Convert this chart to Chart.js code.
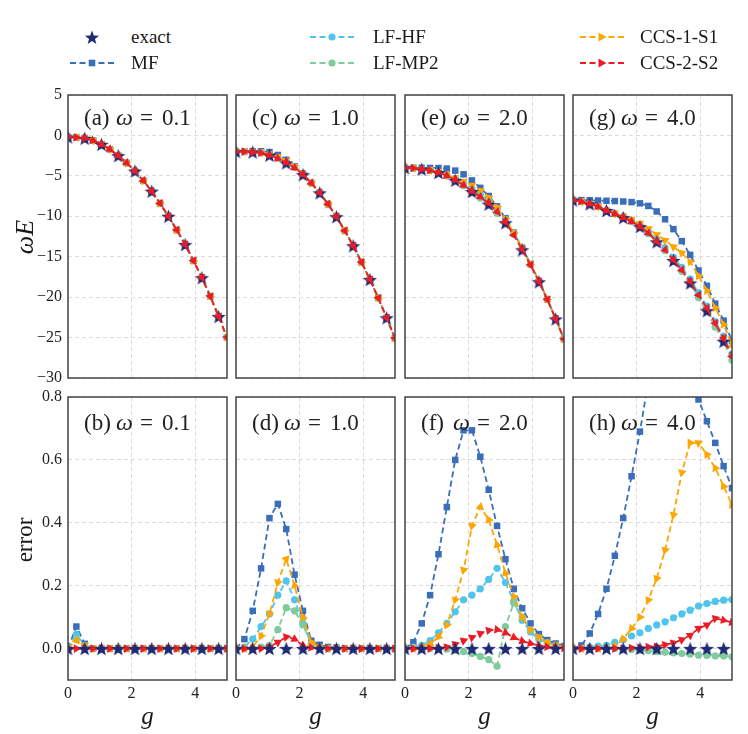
<!DOCTYPE html>
<html>
<head>
<meta charset="utf-8">
<script src="https://cdn.jsdelivr.net/npm/chart.js@4.4.1/dist/chart.umd.min.js"></script>
<style>
body{margin:0;background:#fff;}
#wrap{position:relative;width:748px;height:734px;font-family:"Liberation Serif","DejaVu Serif",serif;color:#1a1a1a;overflow:hidden;}
canvas{position:absolute;}
.lab{position:absolute;white-space:nowrap;text-align:center;}
.legtxt{position:absolute;font-size:19px;line-height:24px;white-space:nowrap;}
.legicon{position:absolute;}
</style>
</head>
<body>
<div id="wrap"></div>
<script>
// g grid (20 points) and the grid of the exact markers (every other point)
const gGrid = [0, 0.263, 0.526, 0.789, 1.053, 1.316, 1.579, 1.842, 2.105, 2.368, 2.632, 2.895, 3.158, 3.421, 3.684, 3.947, 4.211, 4.474, 4.737, 5.0];
const gExact = [0, 0.526, 1.053, 1.579, 2.105, 2.632, 3.158, 3.684, 4.211, 4.737];

const omegas = ['0.1', '1.0', '2.0', '4.0'];
const topLetters = ['(a)', '(c)', '(e)', '(g)'];
const botLetters = ['(b)', '(d)', '(f)', '(h)'];
const yTopTicks = [5, 0, -5, -10, -15, -20, -25, -30];
const yErrTicks = [0.8, 0.6, 0.4, 0.2, 0.0];
const xTicks = [0, 2, 4];

// top row: omega*E
// w = 0.1 : all methods lie on the exact curve
const wE_a_all = [-0.2, -0.25, -0.35, -0.63, -1.1, -1.72, -2.5, -3.4, -4.4, -5.6, -6.9, -8.4, -10.0, -11.7, -13.5, -15.5, -17.6, -19.9, -22.4, -25.0];
const wE_a_exact = [-0.2, -0.35, -1.1, -2.5, -4.4, -6.9, -10.0, -13.5, -17.6, -22.4];

const wE_c_exact = [-2.0, -2.05, -2.45, -3.4, -4.85, -7.1, -10.05, -13.65, -17.82, -22.55];
const wE_c_MF   = [-2.0, -1.99, -1.96, -1.96, -2.06, -2.42, -3.02, -3.82, -4.73, -5.87, -7.09, -8.5, -10.05, -11.78, -13.65, -15.68, -17.82, -20.1, -22.55, -25.1];
const wE_c_HF   = [-2.0, -2.0, -2.02, -2.1, -2.34, -2.71, -3.19, -3.9, -4.77, -5.89, -7.1, -8.5, -10.05, -11.78, -13.65, -15.68, -17.82, -20.1, -22.55, -25.1];
const wE_c_MP2  = [-2.0, -2.01, -2.05, -2.17, -2.44, -2.82, -3.27, -3.93, -4.78, -5.89, -7.1, -8.5, -10.05, -11.78, -13.65, -15.68, -17.82, -20.1, -22.55, -25.1];
const wE_c_CCS1 = [-2.0, -2.01, -2.05, -2.13, -2.34, -2.67, -3.12, -3.85, -4.75, -5.88, -7.1, -8.5, -10.05, -11.78, -13.65, -15.68, -17.82, -20.1, -22.55, -25.1];
const wE_c_CCS2 = [-2.0, -2.01, -2.05, -2.17, -2.45, -2.86, -3.36, -4.02, -4.84, -5.9, -7.1, -8.5, -10.05, -11.78, -13.65, -15.68, -17.82, -20.1, -22.55, -25.1];

const wE_e_exact = [-4.0, -4.18, -4.59, -5.55, -6.95, -8.5, -10.8, -14.15, -18.1, -22.7];
const wE_e_MF   = [-4.0, -4.01, -4.01, -4.02, -4.03, -4.1, -4.35, -4.81, -5.56, -6.48, -7.49, -8.77, -10.23, -12.02, -13.89, -15.89, -18.01, -20.25, -22.67, -25.18];
const wE_e_HF   = [-4.0, -4.04, -4.16, -4.3, -4.49, -4.84, -5.32, -5.89, -6.61, -7.32, -8.06, -9.04, -10.38, -12.1, -13.97, -15.94, -18.04, -20.26, -22.68, -25.19];
const wE_e_MP2  = [-4.0, -4.05, -4.18, -4.35, -4.59, -5.0, -5.56, -6.22, -6.98, -7.75, -8.57, -9.66, -10.66, -12.11, -13.95, -15.93, -18.03, -20.26, -22.68, -25.19];
const wE_e_CCS1 = [-4.0, -4.05, -4.17, -4.32, -4.52, -4.85, -5.24, -5.7, -6.17, -6.8, -7.68, -8.89, -10.32, -12.07, -13.95, -15.93, -18.03, -20.26, -22.68, -25.19];
const wE_e_CCS2 = [-4.0, -4.05, -4.18, -4.35, -4.59, -4.99, -5.52, -6.15, -6.88, -7.6, -8.38, -9.43, -10.7, -12.33, -14.1, -16.02, -18.08, -20.29, -22.69, -25.2];

const wE_g_exact = [-8.0, -8.47, -9.29, -10.16, -11.28, -13.16, -15.47, -18.25, -21.68, -25.45];
const wE_g_MF   = [-8.0, -8.0, -8.02, -8.05, -8.08, -8.12, -8.17, -8.25, -8.4, -8.72, -9.4, -10.37, -11.59, -13.07, -14.77, -16.7, -18.6, -20.8, -22.9, -25.4];
const wE_g_HF   = [-8.0, -8.18, -8.45, -8.77, -9.25, -9.62, -10.05, -10.5, -11.08, -11.86, -12.86, -13.87, -15.08, -16.31, -17.76, -19.45, -21.11, -23.02, -24.83, -27.07];
const wE_g_MP2  = [-8.0, -8.18, -8.47, -8.8, -9.29, -9.7, -10.17, -10.67, -11.3, -12.15, -13.2, -14.26, -15.53, -16.81, -18.32, -20.07, -21.77, -23.71, -25.55, -27.79];
const wE_g_CCS1 = [-8.0, -8.18, -8.47, -8.8, -9.29, -9.67, -10.04, -10.4, -10.88, -11.5, -12.27, -12.96, -13.77, -14.51, -15.63, -17.37, -19.21, -21.32, -23.39, -25.86];
const wE_g_CCS2 = [-8.0, -8.18, -8.47, -8.8, -9.29, -9.7, -10.16, -10.65, -11.27, -12.1, -13.13, -14.16, -15.4, -16.64, -18.08, -19.73, -21.38, -23.24, -25.09, -27.36];

// bottom row: error
const err_exact = [0, 0, 0, 0, 0, 0, 0, 0, 0, 0];

const err_b_MF   = [0, 0.07, 0.015, 0, 0, 0, 0, 0, 0, 0, 0, 0, 0, 0, 0, 0, 0, 0, 0, 0];
const err_b_HF   = [0, 0.045, 0.01, 0, 0, 0, 0, 0, 0, 0, 0, 0, 0, 0, 0, 0, 0, 0, 0, 0];
const err_b_MP2  = [0, 0.03, 0.008, 0, 0, 0, 0, 0, 0, 0, 0, 0, 0, 0, 0, 0, 0, 0, 0, 0];
const err_b_CCS1 = [0, 0.025, 0.01, 0, 0, 0, 0, 0, 0, 0, 0, 0, 0, 0, 0, 0, 0, 0, 0, 0];
const err_b_CCS2 = [0, 0, 0, 0, 0, 0, 0, 0, 0, 0, 0, 0, 0, 0, 0, 0, 0, 0, 0, 0];

const err_d_MF   = [0, 0.03, 0.12, 0.255, 0.415, 0.46, 0.38, 0.235, 0.12, 0.025, 0.012, 0.005, 0.003, 0, 0, 0, 0, 0, 0, 0];
const err_d_HF   = [0, 0.005, 0.03, 0.07, 0.11, 0.17, 0.215, 0.155, 0.08, 0.015, 0.005, 0, 0, 0, 0, 0, 0, 0, 0, 0];
const err_d_MP2  = [0, 0, 0, 0.005, 0.01, 0.06, 0.13, 0.12, 0.075, 0.015, 0.003, 0, 0, 0, 0, 0, 0, 0, 0, 0];
const err_d_CCS1 = [0, 0, 0.005, 0.04, 0.11, 0.21, 0.285, 0.2, 0.1, 0.02, 0.005, 0, 0, 0, 0, 0, 0, 0, 0, 0];
const err_d_CCS2 = [0, 0, 0, 0, 0.005, 0.02, 0.037, 0.03, 0.01, 0.003, 0, 0, 0, 0, 0, 0, 0, 0, 0, 0];

const err_f_MF   = [0, 0.02, 0.08, 0.17, 0.30, 0.45, 0.60, 0.694, 0.694, 0.61, 0.505, 0.39, 0.284, 0.19, 0.128, 0.08, 0.046, 0.027, 0.016, 0.008];
const err_f_HF   = [0, 0.005, 0.01, 0.025, 0.05, 0.08, 0.117, 0.155, 0.17, 0.19, 0.22, 0.255, 0.21, 0.15, 0.09, 0.053, 0.029, 0.018, 0.01, 0.005];
const err_f_MP2  = [0, 0, 0, 0, 0, -0.002, -0.005, -0.01, -0.016, -0.025, -0.035, -0.056, 0.07, 0.145, 0.10, 0.058, 0.034, 0.018, 0.01, 0.005];
const err_f_CCS1 = [0, 0, 0.005, 0.015, 0.037, 0.075, 0.155, 0.25, 0.39, 0.45, 0.41, 0.33, 0.24, 0.165, 0.10, 0.06, 0.037, 0.02, 0.01, 0.005];
const err_f_CCS2 = [0, 0, 0, 0, 0.002, 0.005, 0.014, 0.025, 0.035, 0.048, 0.058, 0.06, 0.05, 0.035, 0.024, 0.016, 0.01, 0.005, 0.003, 0.002];

const err_h_MF   = [0, 0.01, 0.048, 0.11, 0.19, 0.295, 0.415, 0.548, 0.69, 0.85, 0.94, 0.96, 0.97, 0.92, 0.87, 0.792, 0.723, 0.654, 0.58, 0.51];
const err_h_HF   = [0, 0, 0.005, 0.008, 0.01, 0.02, 0.028, 0.04, 0.05, 0.064, 0.075, 0.085, 0.098, 0.11, 0.122, 0.135, 0.143, 0.15, 0.154, 0.156];
const err_h_MP2  = [0, 0, 0, 0, 0, 0, -0.002, -0.003, -0.005, -0.007, -0.01, -0.012, -0.014, -0.016, -0.018, -0.021, -0.022, -0.023, -0.024, -0.026];
const err_h_CCS1 = [0, 0, 0, 0, 0, 0.007, 0.03, 0.064, 0.10, 0.154, 0.223, 0.313, 0.425, 0.56, 0.654, 0.654, 0.617, 0.574, 0.516, 0.457];
const err_h_CCS2 = [0, 0, 0, 0, 0, 0, 0, 0.002, 0.003, 0.005, 0.007, 0.012, 0.018, 0.028, 0.042, 0.064, 0.075, 0.096, 0.09, 0.083];

const topData = [
  {exact: wE_a_exact, MF: wE_a_all, HF: wE_a_all, MP2: wE_a_all, CCS1: wE_a_all, CCS2: wE_a_all},
  {exact: wE_c_exact, MF: wE_c_MF, HF: wE_c_HF, MP2: wE_c_MP2, CCS1: wE_c_CCS1, CCS2: wE_c_CCS2},
  {exact: wE_e_exact, MF: wE_e_MF, HF: wE_e_HF, MP2: wE_e_MP2, CCS1: wE_e_CCS1, CCS2: wE_e_CCS2},
  {exact: wE_g_exact, MF: wE_g_MF, HF: wE_g_HF, MP2: wE_g_MP2, CCS1: wE_g_CCS1, CCS2: wE_g_CCS2}
];
const botData = [
  {exact: err_exact, MF: err_b_MF, HF: err_b_HF, MP2: err_b_MP2, CCS1: err_b_CCS1, CCS2: err_b_CCS2},
  {exact: err_exact, MF: err_d_MF, HF: err_d_HF, MP2: err_d_MP2, CCS1: err_d_CCS1, CCS2: err_d_CCS2},
  {exact: err_exact, MF: err_f_MF, HF: err_f_HF, MP2: err_f_MP2, CCS1: err_f_CCS1, CCS2: err_f_CCS2},
  {exact: err_exact, MF: err_h_MF, HF: err_h_HF, MP2: err_h_MP2, CCS1: err_h_CCS1, CCS2: err_h_CCS2}
];

const colors = {exact: '#1f2a74', MF: '#3a6eba', HF: '#4fc4ec', MP2: '#7ecb9b', CCS1: '#ffa500', CCS2: '#ec1c26'};
const names = {exact: 'exact', MF: 'MF', HF: 'LF-HF', MP2: 'LF-MP2', CCS1: 'CCS-1-S1', CCS2: 'CCS-2-S2'};
const FONT = '"Liberation Serif", "DejaVu Serif", serif';

// filled 5-point star used for "exact"
function makeStar(size, color) {
  const c = document.createElement('canvas');
  c.width = size; c.height = size;
  const x = c.getContext('2d');
  const R = size / 2, r = R * 0.42;
  x.beginPath();
  for (let k = 0; k < 10; k++) {
    const a = -Math.PI / 2 + k * Math.PI / 5;
    const rr = k % 2 ? r : R;
    x.lineTo(R + rr * Math.cos(a), R + 0.8 + rr * Math.sin(a));
  }
  x.closePath();
  x.fillStyle = color;
  x.fill();
  return c;
}
const starImg = makeStar(15, colors.exact);

// triangles follow the line direction
function arrowAngle(ctx, flip) {
  const d = ctx.dataset.data, i = ctx.dataIndex;
  const a = d[Math.max(i - 1, 0)], b = d[Math.min(i + 1, d.length - 1)];
  const sx = ctx.chart.scales.x, sy = ctx.chart.scales.y;
  const dx = sx.getPixelForValue(b.x) - sx.getPixelForValue(a.x);
  const dy = sy.getPixelForValue(b.y) - sy.getPixelForValue(a.y);
  return Math.atan2(dy, dx) * 180 / Math.PI + 90 + (flip ? 180 : 0);
}

function series(key, ys, order) {
  const xs = key === 'exact' ? gExact : gGrid;
  const ds = {
    label: names[key],
    data: xs.map((x, i) => ({x: x, y: ys[i]})),
    borderColor: colors[key],
    backgroundColor: colors[key],
    borderWidth: 1.8,
    borderDash: [6, 3.5],
    pointBorderWidth: 0,
    order: order
  };
  if (key === 'exact') { ds.showLine = false; ds.pointStyle = starImg; ds.pointRadius = 7; }
  if (key === 'MF') { ds.pointStyle = 'rect'; ds.pointRadius = 4.6; }
  if (key === 'HF' || key === 'MP2') { ds.pointStyle = 'circle'; ds.pointRadius = 3.6; }
  if (key === 'CCS1' || key === 'CCS2') {
    ds.pointStyle = 'triangle'; ds.pointRadius = 5;
    const flip = key === 'CCS1';
    ds.pointRotation = c => arrowAngle(c, flip);
  }
  return ds;
}

const panelDeco = {
  id: 'panelDeco',
  afterDatasetsDraw(chart, args, opts) {
    const {ctx, chartArea: a} = chart;
    ctx.save();
    ctx.fillStyle = '#222';
    ctx.textBaseline = 'middle';
    const y = a.top + opts.dy;
    ctx.font = '23px ' + FONT;
    ctx.fillText(opts.letter, a.left + 16, y);
    ctx.font = 'italic 24px ' + FONT;
    ctx.fillText('\u03c9', a.left + 48, y);
    ctx.font = '23px ' + FONT;
    ctx.fillText('=', a.left + 72, y);
    ctx.fillText(opts.omega, a.left + 94, y);
    ctx.strokeStyle = '#444';
    ctx.lineWidth = 1.5;
    ctx.strokeRect(a.left, a.top, a.right - a.left, a.bottom - a.top);
    ctx.restore();
  }
};

const panelLeft = [68, 236, 405, 573];
const panelW = 159, panelH = 283;
const rowTop = [95, 397];
const PAD_TOP = 22, PAD_RIGHT = 6;
const wrap = document.getElementById('wrap');

function makePanel(row, col) {
  const dataSet = row === 0 ? topData[col] : botData[col];
  const orderTop = {CCS2: 0, exact: 1, CCS1: 2, MP2: 3, HF: 4, MF: 5};
  const orderBot = {exact: 0, CCS2: 1, CCS1: 2, MP2: 3, HF: 4, MF: 5};
  const ord = row === 0 ? orderTop : orderBot;
  const datasets = ['exact', 'MF', 'HF', 'MP2', 'CCS1', 'CCS2'].map(k => series(k, dataSet[k], ord[k]));

  const yAxisW = col === 0 ? panelLeft[0] : 10;
  const xAxisH = row === 1 ? 30 : 20;
  const cv = document.createElement('canvas');
  const left = panelLeft[col] - yAxisW;
  const W = yAxisW + panelW + PAD_RIGHT;
  const H = PAD_TOP + panelH + xAxisH;
  cv.width = W; cv.height = H;
  cv.style.left = left + 'px';
  cv.style.top = (rowTop[row] - PAD_TOP) + 'px';
  cv.style.width = W + 'px'; cv.style.height = H + 'px';
  wrap.appendChild(cv);

  const yTicks = row === 0 ? yTopTicks : yErrTicks;
  new Chart(cv, {
    type: 'line',
    data: {datasets: datasets},
    options: {
      responsive: false,
      animation: false,
      events: [],
      layout: {autoPadding: false, padding: {top: PAD_TOP, right: PAD_RIGHT, left: 0, bottom: 0}},
      plugins: {
        legend: {display: false},
        tooltip: {enabled: false},
        panelDeco: {letter: row === 0 ? topLetters[col] : botLetters[col], omega: omegas[col], dy: row === 0 ? 24 : 27}
      },
      scales: {
        x: {
          type: 'linear', min: 0, max: 5,
          afterBuildTicks: s => { s.ticks = xTicks.map(v => ({value: v})); },
          afterFit: s => { s.height = xAxisH; },
          grid: {color: '#d2d2d2', lineWidth: 0.8, drawTicks: false},
          border: {display: false, dash: [4, 3]},
          ticks: {display: row === 1, padding: 4, color: '#222', font: {family: FONT, size: 16}}
        },
        y: {
          type: 'linear',
          min: row === 0 ? -30 : -0.1,
          max: row === 0 ? 5 : 0.8,
          afterBuildTicks: s => { s.ticks = yTicks.map(v => ({value: v})); },
          afterFit: s => { s.width = yAxisW; },
          grid: {color: '#d2d2d2', lineWidth: 0.8, drawTicks: false},
          border: {display: false, dash: [4, 3]},
          ticks: {
            display: col === 0, padding: 6, color: '#222', font: {family: FONT, size: 16},
            callback: v => row === 0 ? (v < 0 ? '\u2212' + Math.abs(v) : String(v)) : v.toFixed(1)
          }
        }
      }
    },
    plugins: [panelDeco]
  });
}

for (let r = 0; r < 2; r++) for (let c = 0; c < 4; c++) makePanel(r, c);

// axis titles
function addLabel(html, cx, cy, size, rotate, italic) {
  const d = document.createElement('div');
  d.className = 'lab';
  d.innerHTML = html;
  d.style.fontSize = size + 'px';
  d.style.width = '100px'; d.style.height = '30px'; d.style.lineHeight = '30px';
  d.style.left = (cx - 50) + 'px'; d.style.top = (cy - 15) + 'px';
  if (italic) d.style.fontStyle = 'italic';
  if (rotate) d.style.transform = 'rotate(-90deg)';
  wrap.appendChild(d);
}
addLabel('\u03c9E', 25, 237, 26, true, true);
addLabel('error', 25, 540, 23, true, false);
panelLeft.forEach(l => addLabel('g', l + panelW / 2, 716, 25, false, true));

// legend
const legendKeys = ['exact', 'MF', 'HF', 'MP2', 'CCS1', 'CCS2'];
const legendIconX = [70, 70, 310, 310, 580, 580];
const legendTextX = [131, 131, 373, 373, 640, 640];
const legendRowY = [37, 63, 37, 63, 37, 63];
legendKeys.forEach((k, i) => {
  const col = colors[k];
  let mark = '';
  if (k === 'exact') {
    let pts = [];
    for (let j = 0; j < 10; j++) {
      const a = -Math.PI / 2 + j * Math.PI / 5, rr = j % 2 ? 3.1 : 7.4;
      pts.push((22 + rr * Math.cos(a)).toFixed(2) + ',' + (8 + rr * Math.sin(a)).toFixed(2));
    }
    mark = '<polygon points="' + pts.join(' ') + '" fill="' + col + '"/>';
  } else {
    mark = '<line x1="0" y1="7" x2="44" y2="7" stroke="' + col + '" stroke-width="1.8" stroke-dasharray="6 3.5"/>';
    if (k === 'MF') mark += '<rect x="18.7" y="3.7" width="6.6" height="6.6" fill="' + col + '"/>';
    if (k === 'HF' || k === 'MP2') mark += '<circle cx="22" cy="7" r="3.6" fill="' + col + '"/>';
    if (k === 'CCS1' || k === 'CCS2') mark += '<polygon points="26.5,7 18.5,2.6 18.5,11.4" fill="' + col + '"/>';
  }
  const s = document.createElementNS('http://www.w3.org/2000/svg', 'svg');
  s.setAttribute('width', '44'); s.setAttribute('height', '16');
  s.setAttribute('class', 'legicon');
  s.style.left = legendIconX[i] + 'px';
  s.style.top = (legendRowY[i] - 7) + 'px';
  s.innerHTML = mark;
  wrap.appendChild(s);
  const t = document.createElement('div');
  t.className = 'legtxt';
  t.textContent = names[k];
  t.style.left = legendTextX[i] + 'px';
  t.style.top = (legendRowY[i] - 12) + 'px';
  wrap.appendChild(t);
});
</script>
</body>
</html>
